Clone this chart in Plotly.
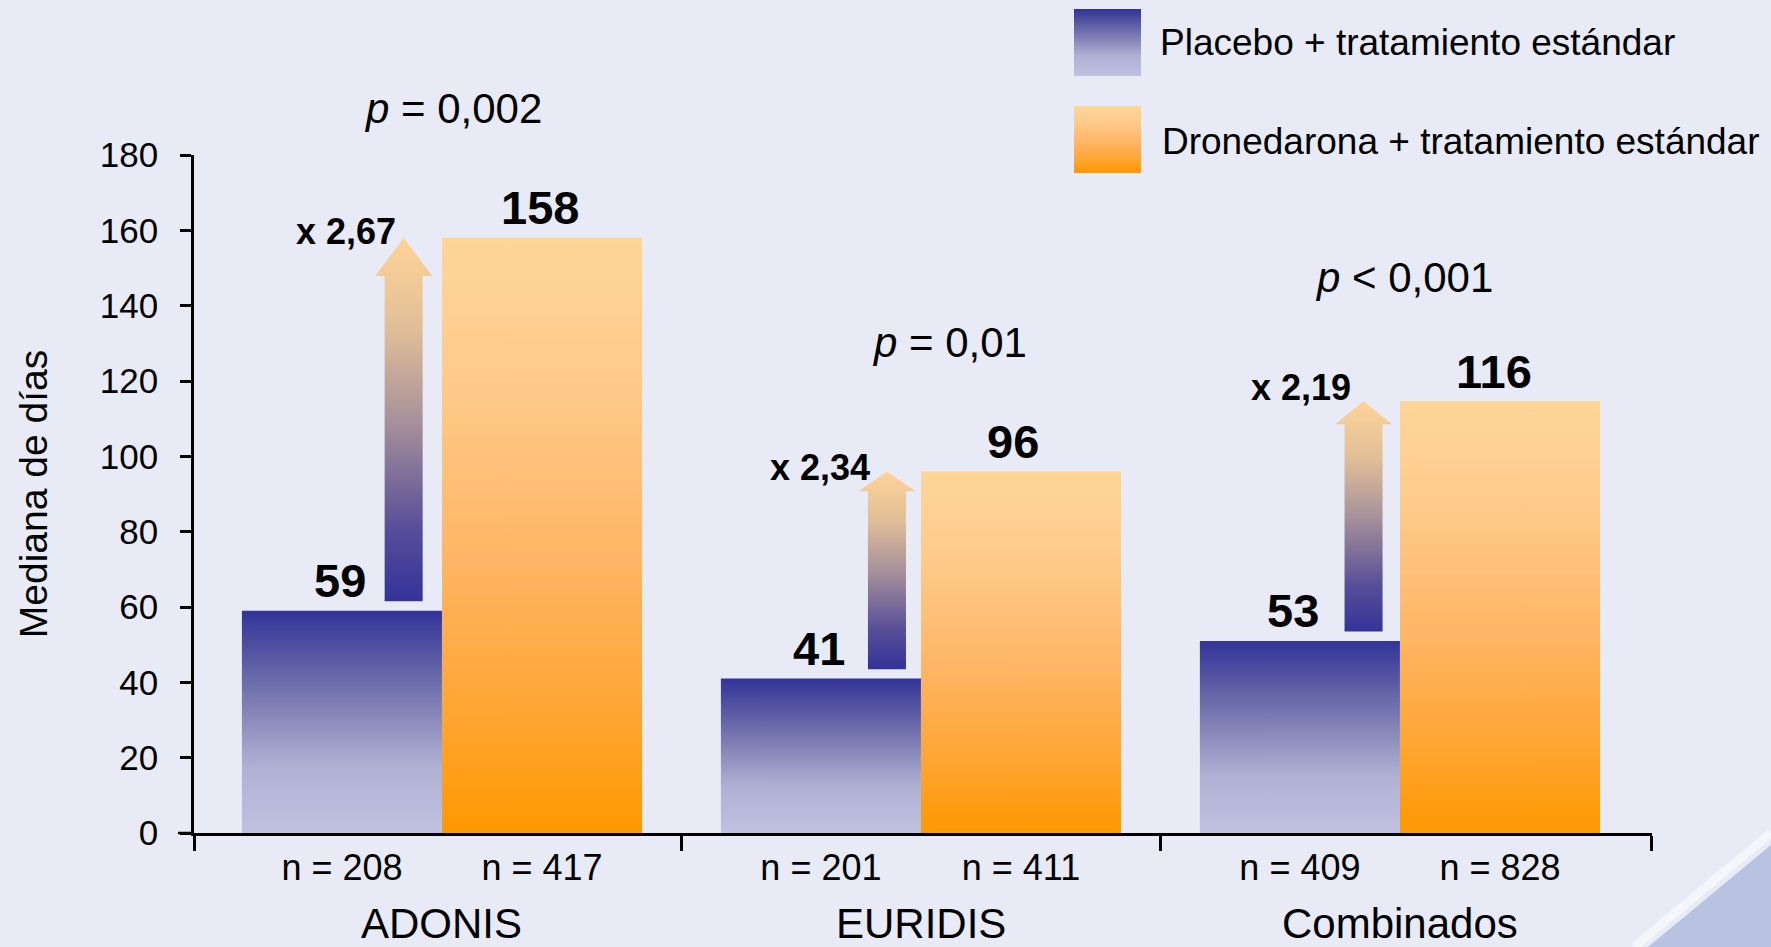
import plotly.graph_objects as go

# ---------------- data ----------------
groups = ["ADONIS", "EURIDIS", "Combinados"]
series_names = ["Placebo + tratamiento estándar", "Dronedarona + tratamiento estándar"]
placebo_days = [59, 41, 51]          # bar heights as drawn
drone_days = [158, 96, 114.6]
placebo_labels = ["59", "41", "53"]   # printed values
drone_labels = ["158", "96", "116"]
placebo_n = ["n = 208", "n = 201", "n = 409"]
drone_n = ["n = 417", "n = 411", "n = 828"]
ratio_labels = ["x 2,67", "x 2,34", "x 2,19"]
p_labels = ["<i>p</i> = 0,002", "<i>p</i> = 0,01", "<i>p</i> &lt; 0,001"]
y_ticks = [0, 20, 40, 60, 80, 100, 120, 140, 160, 180]
y_title = "Mediana de días"

# ---------------- layout / style ----------------
W, H = 1771, 947
PX_L, PX_R, PX_T, PX_B = 194, 1652, 155, 833
X_RANGE = [-0.5177, 2.5262]
Y_RANGE = [0, 180]
Y_DOM = [(H - PX_B) / H, (H - PX_T) / H]
BAR_W = 0.4177
ARROW_OFF = [-0.080, -0.071, -0.076]
ARROW_GAP = 2.5
SHAFT_HALF = 0.0397
HEAD_HALF = 0.0595
HEAD_LEN = [10.1, 5.3, 6.1]
RATIO_SHIFT = [(-6, 6), (-15, 4), (-11, 14)]
VALUE_XSHIFT = [(-2, -2), (-2, -8), (-7, -6)]
P_POS = [(0.022, 192.3), (1.059, 130.2), (2.008, 147.6)]
GROUP_LABEL_PX = 923
FONT = "Liberation Sans, Arial, sans-serif"
BG = "#e8ebf6"

PLACEBO_CS = [[0, "rgb(192,192,224)"], [0.3, "rgb(176,176,212)"], [0.55, "rgb(132,132,184)"],
              [0.78, "rgb(90,90,164)"], [1, "rgb(51,51,153)"]]
DRONE_CS = [[0, "rgb(255,152,0)"], [0.2, "rgb(255,165,50)"], [0.47, "rgb(255,182,102)"],
            [0.75, "rgb(254,202,138)"], [1, "rgb(254,214,152)"]]
ARROW_CS = [[0, "rgb(51,51,153)"], [0.2, "rgb(88,78,152)"], [0.5, "rgb(168,146,155)"],
            [0.75, "rgb(225,190,152)"], [1, "rgb(253,212,151)"]]


def rect(x0, x1, y0, y1):
    return [x0, x1, x1, x0, x0], [y0, y0, y1, y1, y0]


def y_paper(v):
    return Y_DOM[0] + (v - Y_RANGE[0]) / (Y_RANGE[1] - Y_RANGE[0]) * (Y_DOM[1] - Y_DOM[0])


fig = go.Figure()

# bars
for i in range(len(groups)):
    for k, (vals, cs, off) in enumerate([(placebo_days, PLACEBO_CS, -BAR_W),
                                         (drone_days, DRONE_CS, 0.0)]):
        xs, ys = rect(i + off, i + off + BAR_W, 0, vals[i])
        fig.add_trace(go.Scatter(
            x=xs, y=ys, mode="lines", fill="toself", line=dict(width=0),
            fillgradient=dict(type="vertical", colorscale=cs, start=0, stop=vals[i]),
            name=series_names[k], showlegend=False, hoverinfo="skip"))

# arrows
for i in range(len(groups)):
    cx = i + ARROW_OFF[i]
    y0 = placebo_days[i] + ARROW_GAP
    y1 = drone_days[i]
    yh = y1 - HEAD_LEN[i]
    xs = [cx - SHAFT_HALF, cx + SHAFT_HALF, cx + SHAFT_HALF, cx + HEAD_HALF, cx,
          cx - HEAD_HALF, cx - SHAFT_HALF, cx - SHAFT_HALF]
    ys = [y0, y0, yh, yh, y1, yh, yh, y0]
    fig.add_trace(go.Scatter(
        x=xs, y=ys, mode="lines", fill="toself", line=dict(width=0),
        fillgradient=dict(type="vertical", colorscale=ARROW_CS, start=y0, stop=y1),
        showlegend=False, hoverinfo="skip"))

# legend patches (own axes)
for k, (cs, (ya, yb)) in enumerate([(PLACEBO_CS, (0.5915, 1.0)), (DRONE_CS, (0.0, 0.4085))]):
    xs, ys = rect(0, 1, ya, yb)
    fig.add_trace(go.Scatter(
        x=xs, y=ys, mode="lines", fill="toself", line=dict(width=0),
        fillgradient=dict(type="vertical", colorscale=cs, start=ya, stop=yb),
        xaxis="x2", yaxis="y2", name=series_names[k], showlegend=False, hoverinfo="skip"))

annotations = []
for i in range(len(groups)):
    # value labels
    for j, (vals, labs, off) in enumerate([(placebo_days, placebo_labels, -BAR_W / 2),
                                           (drone_days, drone_labels, BAR_W / 2)]):
        annotations.append(dict(x=i + off, y=vals[i], text=labs[i], showarrow=False,
                                xanchor="center", yanchor="middle", yshift=30,
                                xshift=VALUE_XSHIFT[i][j],
                                font=dict(family=FONT, size=47, color="black", weight=700)))
    # ratio labels
    annotations.append(dict(x=i + ARROW_OFF[i], y=drone_days[i], text=ratio_labels[i], showarrow=False,
                            xanchor="right", yanchor="middle",
                            xshift=RATIO_SHIFT[i][0], yshift=RATIO_SHIFT[i][1],
                            font=dict(family=FONT, size=36, color="black", weight=700)))
    # group names
    annotations.append(dict(x=i, xref="x", y=(H - GROUP_LABEL_PX) / H, yref="paper", text=groups[i],
                            showarrow=False, xanchor="center", yanchor="middle",
                            font=dict(family=FONT, size=42, color="black")))
    # p-values
    annotations.append(dict(x=P_POS[i][0], xref="x", y=y_paper(P_POS[i][1]), yref="paper",
                            text=p_labels[i], showarrow=False, xanchor="center", yanchor="middle",
                            font=dict(family=FONT, size=42, color="black")))

# legend texts
for k, (xpx, ypx) in enumerate([(1158, 43), (1160, 141)]):
    annotations.append(dict(x=xpx / W, xref="paper", y=(H - ypx) / H, yref="paper",
                            text=series_names[k], showarrow=False, xanchor="left", yanchor="middle",
                            font=dict(family=FONT, size=37, color="black")))

tick_x, tick_text = [], []
for i in range(len(groups)):
    tick_x += [i - BAR_W / 2, i + BAR_W / 2]
    tick_text += [placebo_n[i], drone_n[i]]

fig.update_layout(
    template="none",
    width=W, height=H, autosize=False,
    margin=dict(l=0, r=0, t=0, b=0, pad=0),
    paper_bgcolor=BG, plot_bgcolor="rgba(0,0,0,0)",
    showlegend=False,
    font=dict(family=FONT, color="black"),
    xaxis=dict(domain=[PX_L / W, PX_R / W], range=X_RANGE, fixedrange=True, automargin=False,
               showgrid=False, zeroline=False, showline=True, linecolor="black", linewidth=2.5,
               tickmode="array", tickvals=tick_x, ticktext=tick_text, ticks="",
               ticklabelstandoff=1, tickfont=dict(family=FONT, size=36, color="black"),
               minor=dict(tickmode="array", tickvals=[-0.5176, 0.5, 1.5, 2.5261], ticks="outside",
                          ticklen=15, tickwidth=2.5, tickcolor="black", showgrid=False)),
    yaxis=dict(domain=Y_DOM, range=Y_RANGE, fixedrange=True, automargin=False,
               showgrid=False, zeroline=False, showline=True, linecolor="black", linewidth=2.5,
               tickmode="array", tickvals=y_ticks, ticks="outside", ticklen=11, tickwidth=2.5,
               tickcolor="black", ticklabelstandoff=15,
               tickfont=dict(family=FONT, size=35, color="black"),
               title=dict(text=y_title, standoff=41, font=dict(family=FONT, size=39, color="black"))),
    xaxis2=dict(domain=[1074 / W, 1141 / W], range=[0, 1], visible=False, fixedrange=True,
                anchor="y2", automargin=False),
    yaxis2=dict(domain=[(H - 173) / H, (H - 9) / H], range=[0, 1], visible=False, fixedrange=True,
                anchor="x2", automargin=False),
    annotations=annotations,
    shapes=[
        dict(type="path", xref="paper", yref="paper", layer="below",
             path=f"M 1 {(H - 845) / H} L {1648 / W} 0 L 1 0 Z",
             fillcolor="#b9c3e1", line=dict(width=0)),
        dict(type="line", xref="paper", yref="paper", layer="below",
             x0=1, y0=(H - 833) / H, x1=1634 / W, y1=0,
             line=dict(color="rgba(255,255,255,0.55)", width=9)),
        dict(type="line", xref="paper", yref="paper", layer="above",
             x0=178 / W, x1=PX_L / W, y0=(H - PX_B) / H, y1=(H - PX_B) / H,
             line=dict(color="black", width=2.5)),
    ],
)

fig.write_html("out.html")
